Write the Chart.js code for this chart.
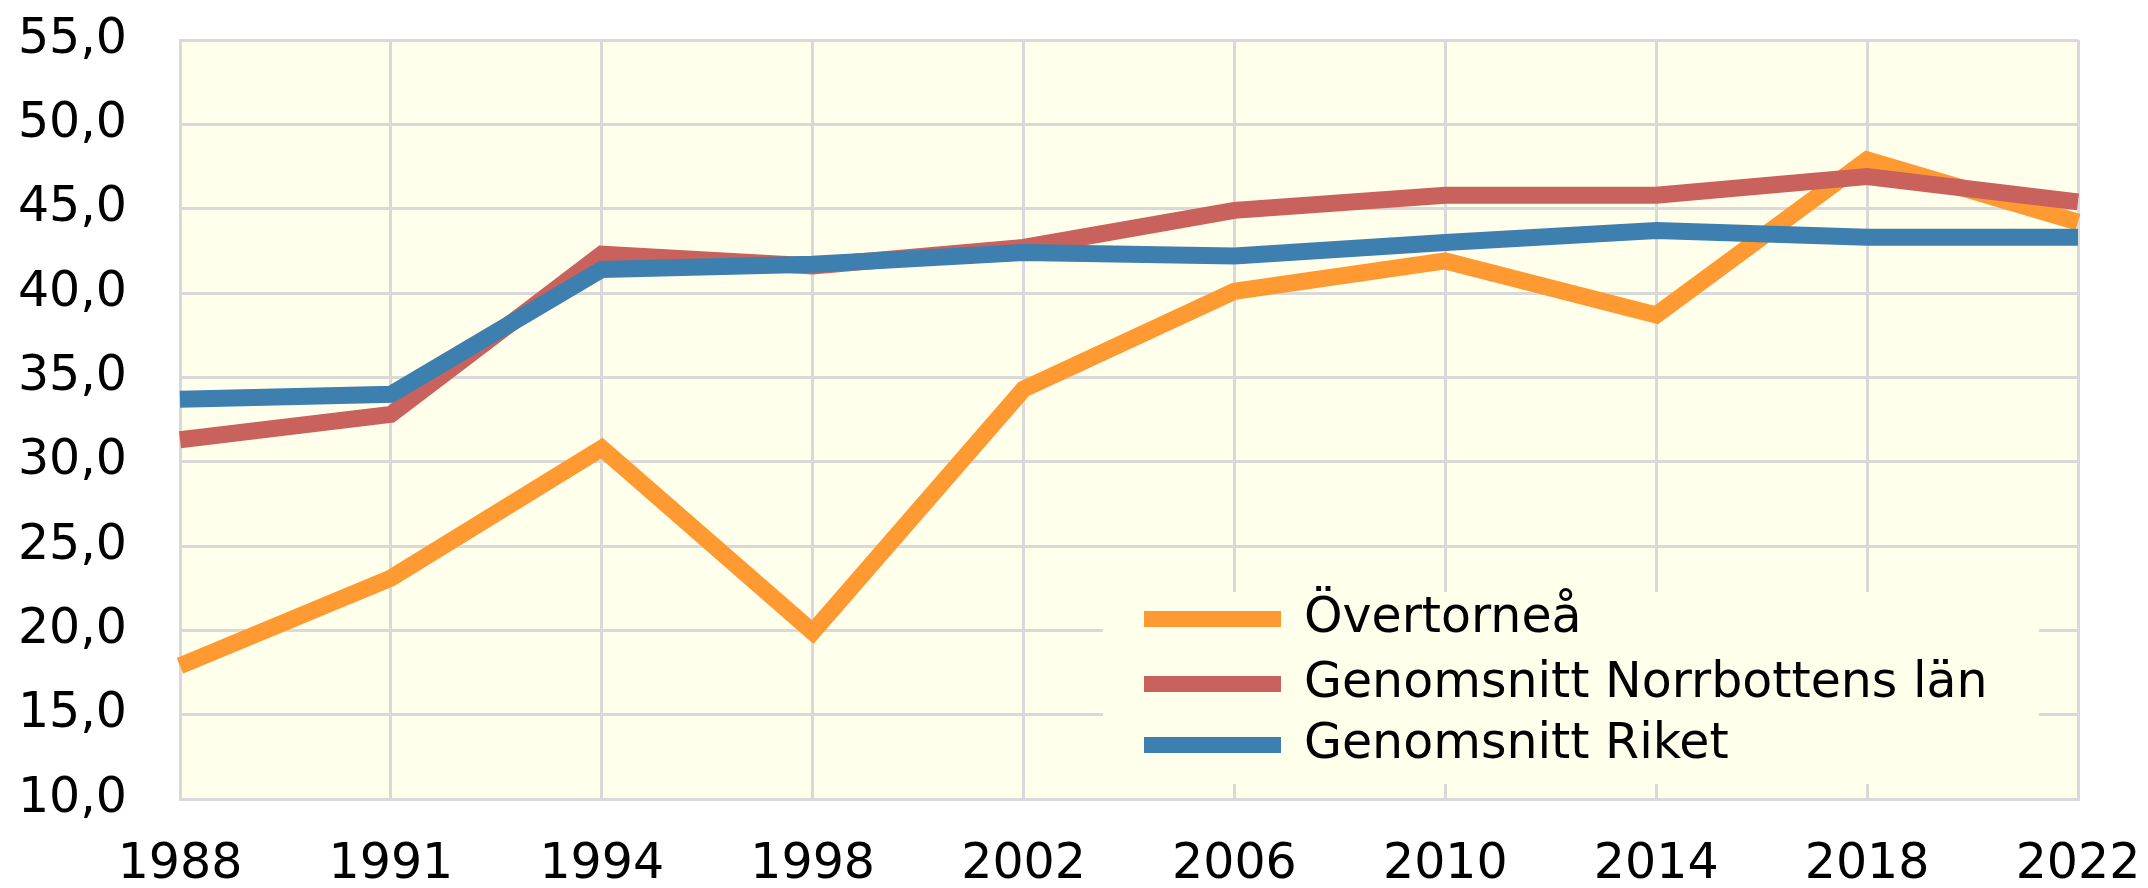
<!DOCTYPE html>
<html>
<head>
<meta charset="utf-8">
<script src="https://cdn.jsdelivr.net/npm/chart.js@4/dist/chart.umd.min.js"></script>
<style>
html,body{margin:0;padding:0;background:#ffffff;}
#wrap{width:2148px;height:888px;position:relative;}
</style>
</head>
<body>
<div id="wrap"><canvas id="c" width="2148" height="888"></canvas></div>
<script>
const years = ['1988','1991','1994','1998','2002','2006','2010','2014','2018','2022'];
const overtornea = [17.9, 23.1, 30.8, 19.9, 34.3, 40.1, 41.9, 38.7, 47.9, 44.2];
const norrbotten = [31.3, 32.8, 42.3, 41.6, 42.7, 44.9, 45.8, 45.8, 46.9, 45.4];
const riket      = [33.7, 34.0, 41.4, 41.7, 42.4, 42.2, 43.0, 43.7, 43.3, 43.3];
const seriesNames = ['Övertorneå', 'Genomsnitt Norrbottens län', 'Genomsnitt Riket'];
const seriesColors = ['#FF9A33', '#C9625C', '#3D7FAE'];

const FONT = 'DejaVu Sans, Verdana, sans-serif';
const PLOT_BG = '#FFFFEB';
const GRID = '#D9D9D9';

const plotBg = {
  id: 'plotBg',
  beforeDraw(chart) {
    const {ctx, chartArea: a} = chart;
    ctx.save();
    ctx.fillStyle = PLOT_BG;
    ctx.fillRect(a.left, a.top, a.right - a.left, a.bottom - a.top);
    ctx.restore();
  }
};

const innerLegend = {
  id: 'innerLegend',
  afterDatasetsDraw(chart) {
    const {ctx} = chart;
    const x0 = 1103, y0 = 592, x1 = 2039, y1 = 784;
    ctx.save();
    ctx.fillStyle = PLOT_BG;
    ctx.fillRect(x0, y0, x1 - x0, y1 - y0);
    const rows = [619, 684, 745];
    ctx.font = '49px ' + FONT;
    ctx.textBaseline = 'middle';
    ctx.textAlign = 'left';
    chart.data.datasets.forEach((ds, i) => {
      const y = rows[i];
      ctx.strokeStyle = ds.borderColor;
      ctx.lineWidth = 16;
      ctx.beginPath();
      ctx.moveTo(1144, y);
      ctx.lineTo(1281, y);
      ctx.stroke();
      ctx.fillStyle = '#000000';
      ctx.fillText(ds.label, 1304, y);
    });
    ctx.restore();
  }
};

const orders = [3, 2, 1];
const seriesData = [overtornea, norrbotten, riket];

new Chart(document.getElementById('c'), {
  type: 'line',
  data: {
    labels: years,
    datasets: seriesData.map((d, i) => ({
      label: seriesNames[i],
      data: d,
      borderColor: seriesColors[i],
      backgroundColor: seriesColors[i],
      borderWidth: 17,
      pointRadius: 0,
      tension: 0,
      fill: false,
      order: orders[i]
    }))
  },
  options: {
    responsive: false,
    animation: false,
    devicePixelRatio: 1,
    layout: { padding: { left: 20, right: 70, top: 40, bottom: 0 } },
    plugins: { legend: { display: false }, tooltip: { enabled: false } },
    scales: {
      x: {
        offset: false,
        grid: { color: GRID, lineWidth: 3, drawTicks: false },
        border: { color: GRID, width: 3 },
        ticks: { color: '#000', font: { family: FONT, size: 49, lineHeight: 1.0 }, padding: 42, maxRotation: 0, autoSkip: false },
        afterFit(s) { s.height = 89; s.paddingLeft = 0; s.paddingRight = 0; }
      },
      y: {
        min: 10, max: 55,
        grid: { color: GRID, lineWidth: 3, drawTicks: false },
        border: { color: GRID, width: 3 },
        ticks: {
          stepSize: 5, color: '#000', padding: 53,
          font: { family: FONT, size: 49 },
          callback: v => v.toFixed(1).replace('.', ',')
        },
        afterFit(s) { s.width = 160; s.paddingTop = 0; s.paddingBottom = 0; }
      }
    }
  },
  plugins: [plotBg, innerLegend]
});
</script>
</body>
</html>
